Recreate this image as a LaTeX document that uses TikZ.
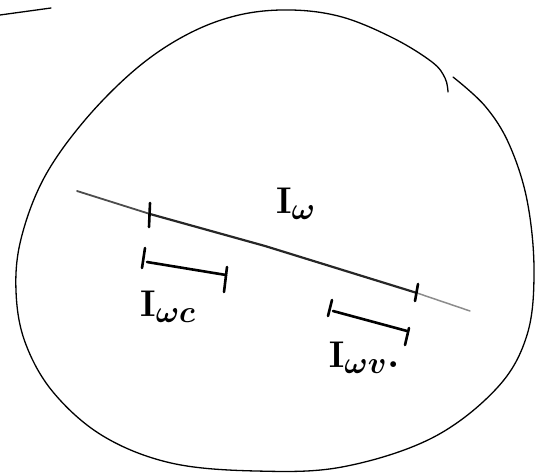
\documentclass[tikz,border=0pt]{standalone}
\begin{document}
\begin{tikzpicture}[x=1bp,y=-1bp,
  pen/.style={line width=1.3bp,black,line cap=round,line join=round},
  thick pen/.style={line width=2.6bp,black,line cap=round},
  lab/.style={inner sep=0pt,scale=1.5,font=\Huge\boldmath}]
\useasboundingbox (0,0) rectangle (536,474);
% stray stroke top-left
\coordinate (s1) at (0,15);
\coordinate (s2) at (51,8);
\draw[pen] (s1) -- (s2);
% blob
\draw[pen] plot[smooth,tension=0.6] coordinates {
 (453,77) (485,106) (509,144) (527,200) (534,270) (527,335) (497,388)
 (432,438) (342,467) (256,471) (171,463) (103,436) (53,392) (25,342)
 (16,291) (21,239) (44,178) (85,120) (137,68) (188,34) (239,15) (291,10)
 (342,17) (393,38) (432,62) (445,78) (448,92)};
% main line
\coordinate (a) at (77,191);
\coordinate (b) at (150,214);
\coordinate (m) at (265,246);
\coordinate (c) at (417,293);
\coordinate (d) at (470,311);
\draw[line width=1.8bp,black!70,line cap=round] (a) -- (b);
\draw[line width=2.2bp,black!85] (b) -- (m) -- (c);
\draw[line width=1.5bp,black!45,line cap=round] (c) -- (d);
\coordinate (bt1) at (150,203);
\coordinate (bt2) at (149,227);
\coordinate (ct1) at (418,284);
\coordinate (ct2) at (415,301);
\draw[thick pen] (bt1) -- (bt2);
\draw[thick pen] (ct1) -- (ct2);
% interval c
\coordinate (c1) at (145,248);
\coordinate (c2) at (142,268);
\coordinate (c3) at (147,262);
\coordinate (c4) at (226,275);
\coordinate (c5) at (227,267);
\coordinate (c6) at (224,292);
\draw[thick pen] (c1) -- (c2);
\draw[thick pen] (c3) -- (c4);
\draw[thick pen] (c5) -- (c6);
% interval v
\coordinate (v1) at (332,300);
\coordinate (v2) at (328,316);
\coordinate (v3) at (333,311);
\coordinate (v4) at (407,331);
\coordinate (v5) at (409,328);
\coordinate (v6) at (405,345);
\draw[thick pen] (v1) -- (v2);
\draw[thick pen] (v3) -- (v4);
\draw[thick pen] (v5) -- (v6);
% labels
\node[lab] (lw) at (296,204) {$\mathrm{I}_{\omega}$};
\node[lab] (lwc) at (168,307) {$\mathrm{I}_{\omega c}$};
\node[lab] (lwv) at (364,358) {$\mathrm{I}_{\omega v}.$};
\end{tikzpicture}
\end{document}
